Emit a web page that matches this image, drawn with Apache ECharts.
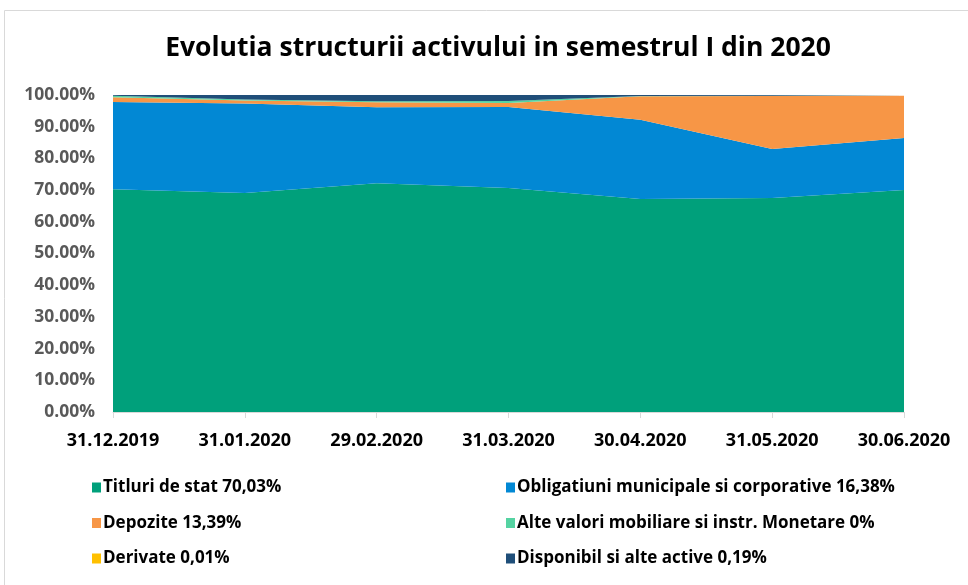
<!DOCTYPE html>
<html><head><meta charset="utf-8">
<script src="https://cdn.jsdelivr.net/npm/echarts@6/dist/echarts.min.js"></script>
<style>html,body{margin:0;padding:0;background:#fff}#c{width:968px;height:585px}</style>
</head><body><div id="c"></div>
<script>
const categories = ['31.12.2019','31.01.2020','29.02.2020','31.03.2020','30.04.2020','31.05.2020','30.06.2020'];
const titluri = [70.3, 69.1, 72.2, 70.7, 67.2, 67.5, 70.03];
const obligatiuni = [27.5, 28.2, 23.9, 25.5, 25.0, 15.5, 16.38];
const depozite = [1.5, 1.0, 1.6, 1.3, 7.4, 16.7, 13.39];
const alteValori = [0.5, 0.3, 0.3, 0.6, 0.1, 0.1, 0];
const derivate = [0, 0, 0, 0, 0, 0, 0.01];
const disponibil = [0.2, 1.4, 2.0, 1.9, 0.3, 0.2, 0.19];
const yTicks = [0,10,20,30,40,50,60,70,80,90,100];

const names = ['Titluri de stat 70,03%','Obligatiuni municipale si corporative 16,38%','Depozite 13,39%','Alte valori mobiliare si instr. Monetare 0%','Derivate 0,01%','Disponibil si alte active 0,19%'];
const colors = ['#00A07B','#0288D4','#F79646','#55D3A2','#FFC000','#1F4E79'];
const datasets = [titluri, obligatiuni, depozite, alteValori, derivate, disponibil];
const FONT = 'Open Sans';
const chart = echarts.init(document.getElementById('c'));
const legendText = {fontFamily: FONT, fontSize: 17, color: '#000', fontWeight: 'bold', padding: [0, 0, 0, -3]};
chart.setOption({
  animation: false,
  color: colors,
  title: {text: 'Evolutia structurii activului in semestrul I din 2020', left: 493, textAlign: 'center', top: 30,
    textStyle: {fontFamily: FONT, fontSize: 26.5, fontWeight: 'bold', color: '#000'}},
  graphic: [{type: 'rect', shape: {x: 4.5, y: 10.5, width: 1000, height: 700}, style: {fill: 'none', stroke: '#d9d9d9', lineWidth: 1}, silent: true}],
  legend: [
    {data: [names[0], names[2], names[4]], orient: 'vertical', left: 87, top: 474, itemWidth: 9, itemHeight: 10, itemGap: 18.5, icon: 'rect', textStyle: legendText},
    {data: [names[1], names[3], names[5]], orient: 'vertical', left: 501, top: 474, itemWidth: 9, itemHeight: 10, itemGap: 18.5, icon: 'rect', textStyle: legendText}
  ],
  grid: {left: 113, right: 64, top: 95, bottom: 173},
  xAxis: {type: 'category', data: categories, boundaryGap: false,
    axisLine: {lineStyle: {color: '#d9d9d9', width: 1}},
    axisTick: {show: true, alignWithLabel: true, length: 6, lineStyle: {color: '#d9d9d9'}},
    axisLabel: {fontFamily: FONT, fontSize: 18, fontWeight: 'bold', color: '#000', margin: 20}},
  yAxis: {type: 'value', min: 0, max: 100, interval: 10,
    splitLine: {show: false}, axisLine: {show: false}, axisTick: {show: false},
    axisLabel: {fontFamily: FONT, fontSize: 17.5, fontWeight: 'bold', color: '#595959', margin: 18,
      formatter: v => yTicks.includes(v) ? v.toFixed(2) + '%' : ''}},
  series: datasets.map((d, i) => ({
    name: names[i], type: 'line', stack: 'total', data: d, symbol: 'none',
    lineStyle: {width: 0, opacity: 0}, areaStyle: {color: colors[i], opacity: 1},
    itemStyle: {color: colors[i]}
  }))
});
</script></body></html>
